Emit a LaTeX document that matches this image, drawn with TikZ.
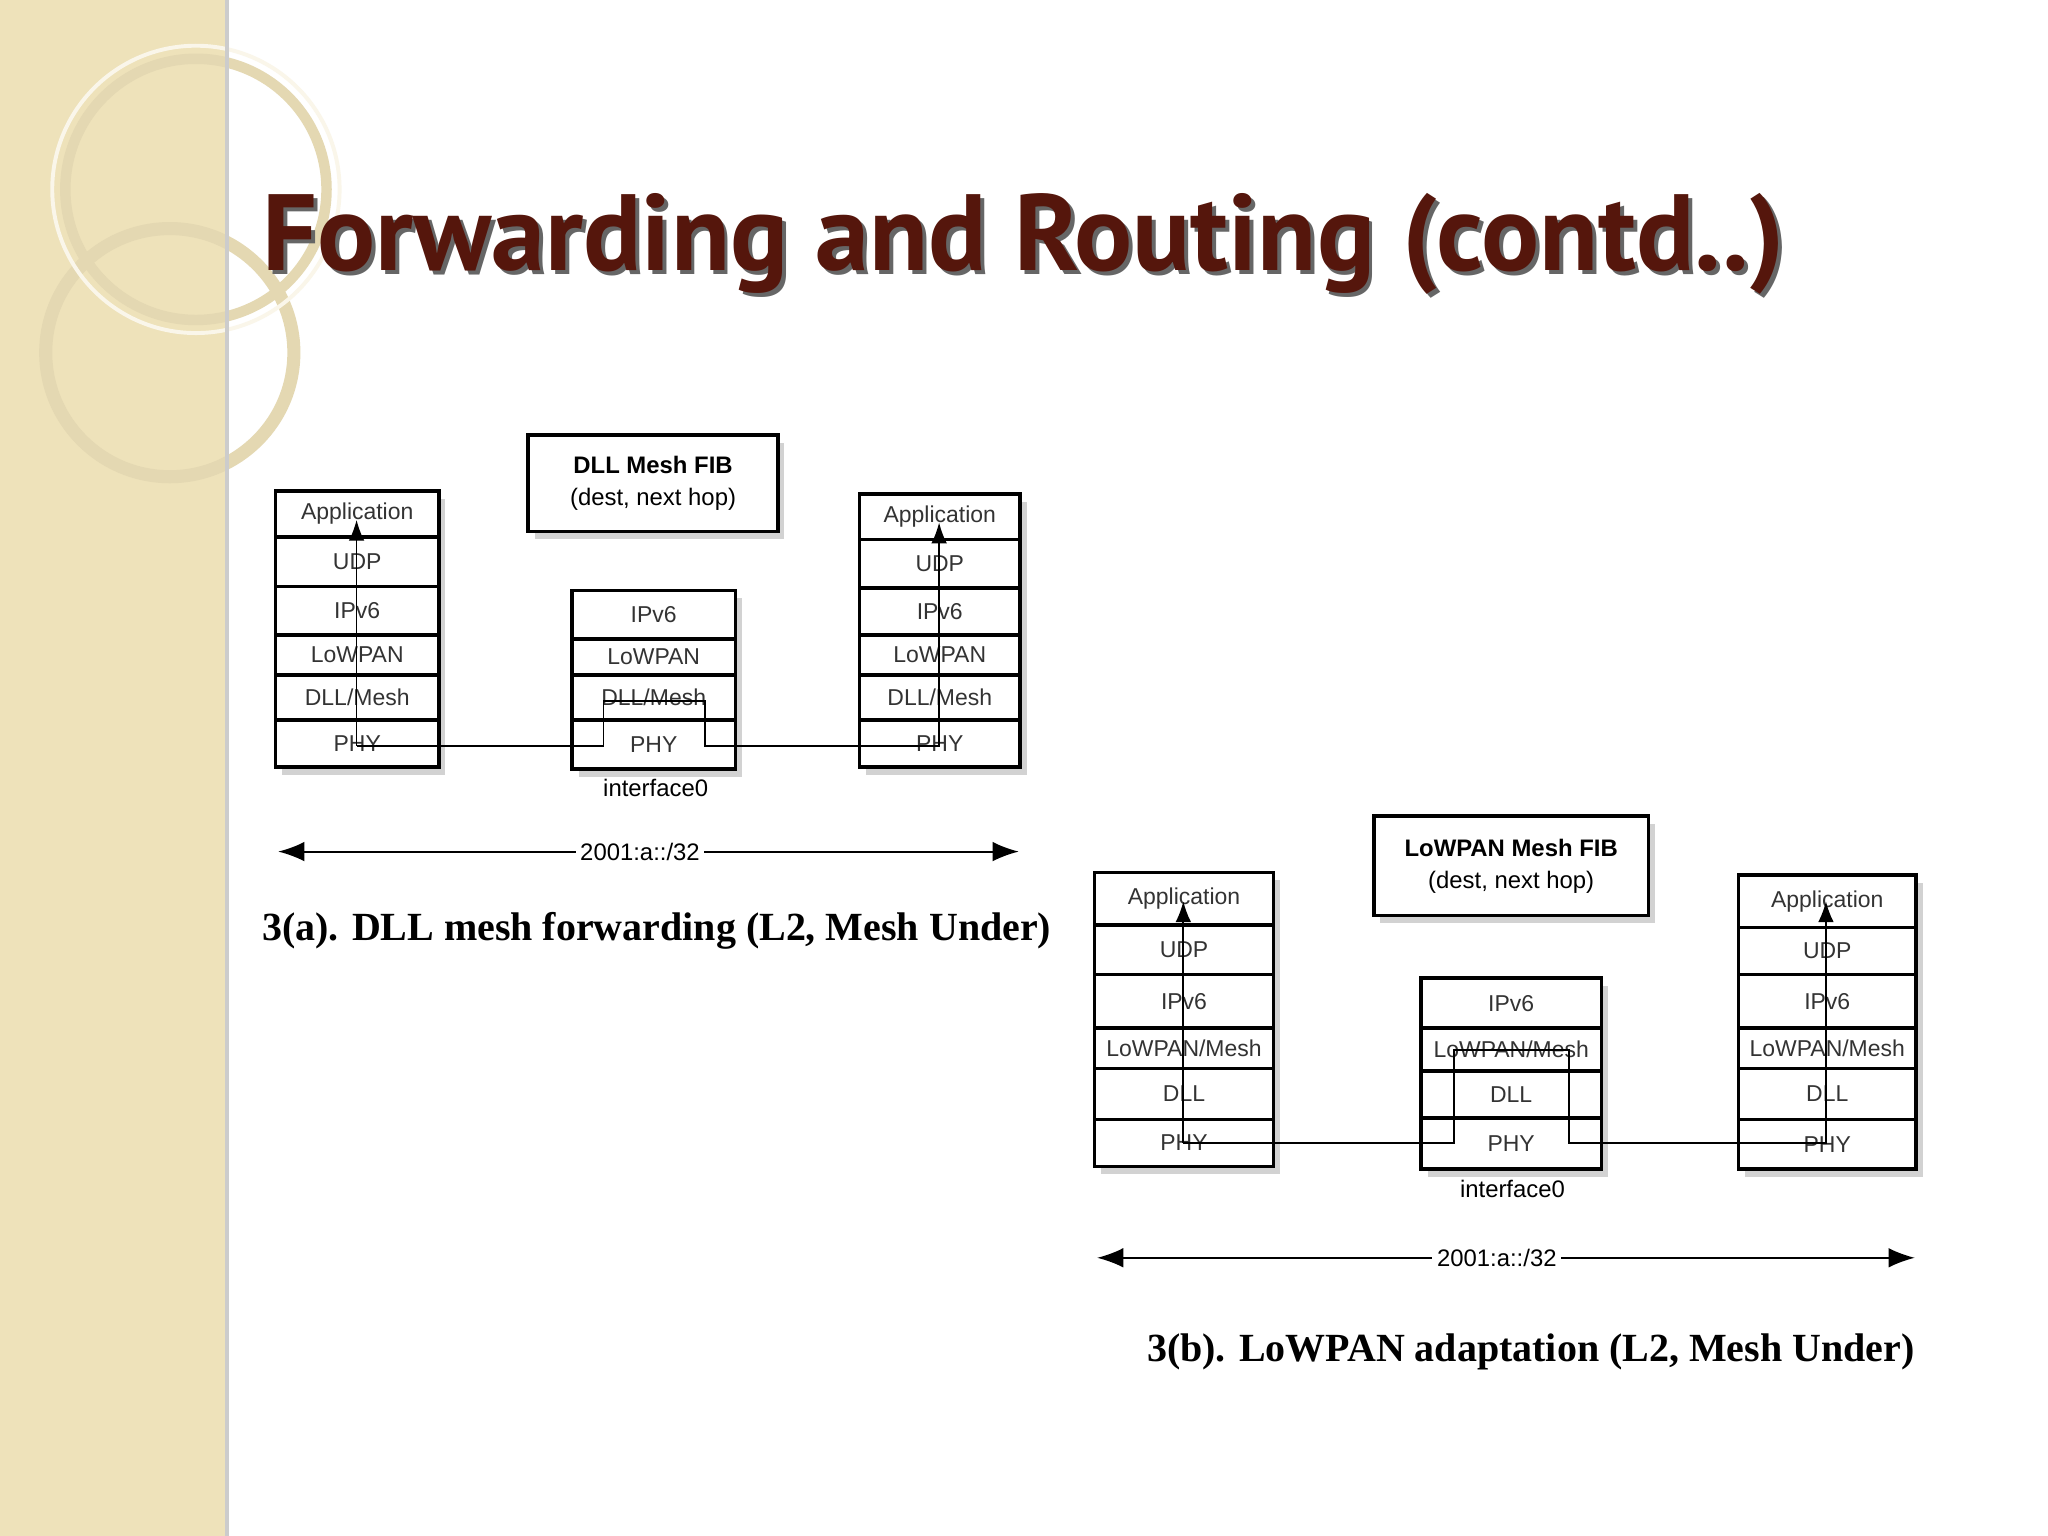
\documentclass[tikz,border=0pt]{standalone}
\usepackage{fontspec}
\setmainfont{Liberation Sans}
\newfontfamily\titlefont{PT Sans}
\newfontfamily\capfont{Liberation Serif}
\usetikzlibrary{arrows.meta,shadows}
\definecolor{sidebg}{RGB}{238,226,186}
\definecolor{sidering}{RGB}{228,216,178}
\definecolor{titlec}{RGB}{85,22,12}
\tikzset{
  lyr/.style={draw,thick,fill=white,inner sep=0pt,font=\fontsize{5}{6}\selectfont,text=black!80},
  fib/.style={draw,thick,fill=white,drop shadow={shadow xshift=0.05cm,shadow yshift=-0.06cm,fill=gray!70},inner sep=0pt,font=\fontsize{5.2}{7}\selectfont,align=center},
  stackbg/.style={fill=white,drop shadow={shadow xshift=0.05cm,shadow yshift=-0.06cm,fill=gray!70}},
  route/.style={thin,black},
  rng/.style={thin,{Latex[length=2mm]}-{Latex[length=2mm]}},
  lbl/.style={font=\fontsize{5.2}{6}\selectfont,fill=white,inner sep=1pt},
  capt/.style={inner sep=0pt,font=\capfont\bfseries\fontsize{8.7}{10}\selectfont},
  ttl/.style={anchor=west,inner sep=0pt,font=\titlefont\bfseries\fontsize{23.6}{26}\selectfont}
}
\begin{document}
\begin{tikzpicture}[x=0.01cm,y=-0.01cm]
\useasboundingbox (0,0) rectangle (1568,1176);
\fill[white] (0,0) rectangle (1568,1176);
% sidebar
\fill[sidebg] (0,0) rectangle (172,1176);
\draw[sidering,line width=0.08cm] (150,145) circle (100);
\draw[sidering,line width=0.1cm] (130,270) circle (95);
\draw[white!70!sidebg,line width=0.03cm] (150,145) circle (110);
\fill[gray!40] (172,0) rectangle (175,1176);
% title
\node[ttl,text=black!60] at (203,190) {Forwarding and Routing (contd..)};
\node[ttl,text=titlec] (title) at (200,187) {Forwarding and Routing (contd..)};

% ===== Diagram (a)
\node[fib,minimum width=1.91cm,minimum height=0.74cm] (fibA) at (500,370) {\textbf{DLL Mesh FIB}\\(dest, next hop)};
\fill[stackbg] (211,376) rectangle (336,587);
\fill[stackbg] (438,452) rectangle (563,589);
\fill[stackbg] (658,378) rectangle (781,587);
\foreach \n/\t/\a/\b in {aL1/Application/376/411,aL2/UDP/411/449,aL3/IPv6/449/486,aL4/LoWPAN/486/517,aL5/DLL\slash Mesh/517/551,aL6/PHY/551/587}
  \node[lyr,minimum width=1.25cm,minimum height={(\b-\a)*0.01cm}] (\n) at (273.5,{(\a+\b)/2}) {\t};
\foreach \n/\t/\a/\b in {aM1/IPv6/452/489,aM2/LoWPAN/489/517,aM3/DLL\slash Mesh/517/551,aM4/PHY/551/589}
  \node[lyr,minimum width=1.25cm,minimum height={(\b-\a)*0.01cm}] (\n) at (500.5,{(\a+\b)/2}) {\t};
\foreach \n/\t/\a/\b in {aR1/Application/378/413,aR2/UDP/413/450,aR3/IPv6/450/486,aR4/LoWPAN/486/517,aR5/DLL\slash Mesh/517/551,aR6/PHY/551/587}
  \node[lyr,minimum width=1.23cm,minimum height={(\b-\a)*0.01cm}] (\n) at (719.5,{(\a+\b)/2}) {\t};
\coordinate (a1) at (273,398); \coordinate (a2) at (273,571);
\coordinate (a3) at (462,571); \coordinate (a4) at (462,537);
\coordinate (a5) at (540,537); \coordinate (a6) at (540,571);
\coordinate (a7) at (719,571); \coordinate (a8) at (719,400);
\draw[route,-{Latex[length=1.6mm]}] (a2) -- (a1);
\draw[route,-{Latex[length=1.6mm]}] (a2) -- (a3) -- (a4) -- (a5) -- (a6) -- (a7) -- (a8);
\node[font=\fontsize{5.2}{6}\selectfont] (ifA) at (502,603) {interface0};
\coordinate (ra1) at (213,652); \coordinate (ra2) at (780,652);
\draw[rng] (ra1) -- (ra2);
\node[lbl] (pfA) at (490,652) {2001:a::/32};
\node[capt,anchor=west] (capA) at (200,713) {3(a). DLL mesh forwarding (L2, Mesh Under)};

% ===== Diagram (b)
\node[fib,minimum width=2.10cm,minimum height=0.76cm] (fibB) at (1157,663) {\textbf{LoWPAN Mesh FIB}\\(dest, next hop)};
\fill[stackbg] (838,668) rectangle (975,893);
\fill[stackbg] (1088,749) rectangle (1226,895);
\fill[stackbg] (1331,670) rectangle (1467,895);
\foreach \n/\t/\a/\b in {bL1/Application/668/708,bL2/UDP/708/746,bL3/IPv6/746/787,bL4/LoWPAN\slash Mesh/787/818,bL5/DLL/818/857,bL6/PHY/857/893}
  \node[lyr,minimum width=1.37cm,minimum height={(\b-\a)*0.01cm}] (\n) at (906.5,{(\a+\b)/2}) {\t};
\foreach \n/\t/\a/\b in {bM1/IPv6/749/787,bM2/LoWPAN\slash Mesh/787/820,bM3/DLL/820/856,bM4/PHY/856/895}
  \node[lyr,minimum width=1.38cm,minimum height={(\b-\a)*0.01cm}] (\n) at (1157,{(\a+\b)/2}) {\t};
\foreach \n/\t/\a/\b in {bR1/Application/670/710,bR2/UDP/710/746,bR3/IPv6/746/787,bR4/LoWPAN\slash Mesh/787/818,bR5/DLL/818/857,bR6/PHY/857/895}
  \node[lyr,minimum width=1.36cm,minimum height={(\b-\a)*0.01cm}] (\n) at (1399,{(\a+\b)/2}) {\t};
\coordinate (b1) at (906,690); \coordinate (b2) at (906,875);
\coordinate (b3) at (1113,875); \coordinate (b4) at (1113,804);
\coordinate (b5) at (1201,804); \coordinate (b6) at (1201,875);
\coordinate (b7) at (1398,875); \coordinate (b8) at (1398,690);
\draw[route,-{Latex[length=1.6mm]}] (b2) -- (b1);
\draw[route,-{Latex[length=1.6mm]}] (b2) -- (b3) -- (b4) -- (b5) -- (b6) -- (b7) -- (b8);
\node[font=\fontsize{5.2}{6}\selectfont] (ifB) at (1158,910) {interface0};
\coordinate (rb1) at (840,963); \coordinate (rb2) at (1466,963);
\draw[rng] (rb1) -- (rb2);
\node[lbl] (pfB) at (1146,963) {2001:a::/32};
\node[capt] (capB) at (1172,1035) {3(b). LoWPAN adaptation (L2, Mesh Under)};
\end{tikzpicture}
\end{document}
